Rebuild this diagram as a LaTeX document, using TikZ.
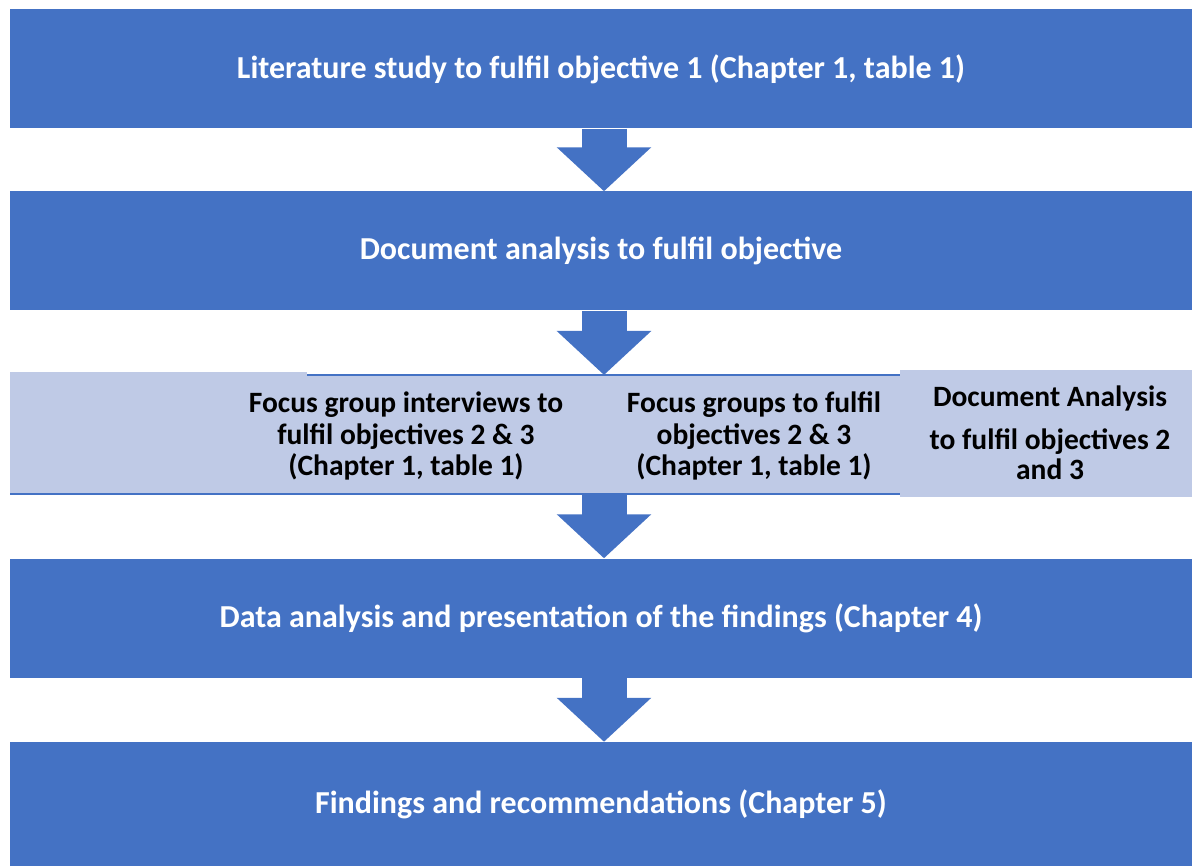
\documentclass[tikz,border=0pt]{standalone}
\usepackage{fontspec}
\setmainfont{Carlito}
\usetikzlibrary{arrows.meta, positioning}
\definecolor{stageblue}{HTML}{4472C4}
\definecolor{bandblue}{HTML}{BFCAE6}

\begin{document}
\begin{tikzpicture}[x=1pt, y=-1pt,
        stage/.style={fill=stageblue, minimum width=1182pt, minimum height=119pt,
                      inner sep=0pt, text=white, align=center,
                      font=\fontsize{32}{38}\selectfont\bfseries},
        cell/.style={inner sep=0pt, align=center, text=black,
                     font=\fontsize{29.5}{31.5}\selectfont\bfseries},
        flow/.style={-{Triangle[width=92pt, length=44pt]}, line width=45pt, draw=stageblue}
    ]
        \useasboundingbox (0,0) rectangle (1192,866);
        \node[stage] (lit) at (601,69) {Literature study to fulfil objective 1 (Chapter 1, table 1)};
        \node[stage] (docan) at (601,251) {Document analysis to fulfil objective};

        % light band with the three methods
        \fill[bandblue] (10,372) rectangle (307,494);
        \fill[bandblue] (307,375) rectangle (900,494);
        \fill[bandblue] (900,370) rectangle (1192,497);
        \draw[stageblue, line width=1.2pt] (307,375) -- (900,375);
        \draw[stageblue, line width=1.2pt] (10,494) -- (900,494);
        \coordinate (bandtop) at (604,375);
        \coordinate (bandbot) at (604,494);
        \node[cell] (fgint) at (406,436) {Focus group interviews to\\fulfil objectives 2 \& 3\\(Chapter 1, table 1)};
        \node[cell] (fgrp) at (754,436) {Focus groups to fulfil\\objectives 2 \& 3\\(Chapter 1, table 1)};
        \node[cell, font=\fontsize{29.5}{30}\selectfont\bfseries] (docobj) at (1050,433) {Document Analysis\\[13pt]to fulfil objectives 2\\and 3};

        \node[stage] (data) at (601,618) {Data analysis and presentation of the findings (Chapter 4)};
        \node[stage, minimum height=124pt] (find) at (601,804) {Findings and recommendations (Chapter 5)};

        \draw[flow] ([xshift=3pt]lit.south) -- ([xshift=3pt]docan.north);
        \draw[flow] ([xshift=3pt]docan.south) -- (bandtop);
        \draw[flow] (bandbot) -- ([xshift=3pt]data.north);
        \draw[flow] ([xshift=3pt]data.south) -- ([xshift=3pt]find.north);
    \end{tikzpicture}
\end{document}
